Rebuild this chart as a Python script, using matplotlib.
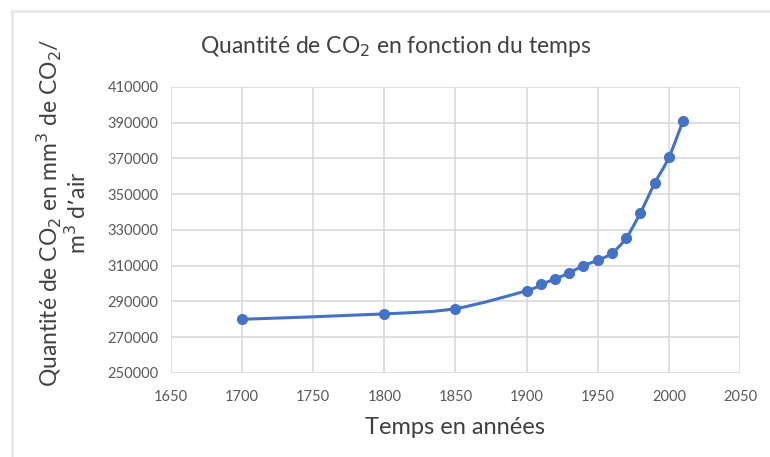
#!/usr/bin/env python3
"""CO2 quantity over time (Excel-style smoothed line chart)."""

import numpy as np
import matplotlib.pyplot as plt
from matplotlib.path import Path
from matplotlib.patches import PathPatch

years = [1700, 1800, 1850, 1900, 1910, 1920, 1930, 1940, 1950, 1960,
         1970, 1980, 1990, 2000, 2010]
co2 = [280000, 283000, 286000, 296000, 299500, 302500, 306000, 310000,
       313000, 317000, 325500, 339500, 356000, 370500, 391000]

x_ticks = list(range(1650, 2051, 50))
y_ticks = list(range(250000, 410001, 20000))

BLUE = '#4472C4'
GRID = '#d9d9d9'
TXT = '#404040'


def smooth_path(x, y):
    # Catmull-Rom style cubic Bezier through the points, like Excel's smoothed line
    p = np.column_stack([x, y]).astype(float)
    verts = [p[0]]
    codes = [Path.MOVETO]
    n = len(p)
    for i in range(n - 1):
        p0 = p[i - 1] if i > 0 else p[i]
        p3 = p[i + 2] if i + 2 < n else p[i + 1]
        c1 = p[i] + (p[i + 1] - p0) / 6
        c2 = p[i + 1] - (p3 - p[i]) / 6
        verts += [c1, c2, p[i + 1]]
        codes += [Path.CURVE4] * 3
    return Path(verts, codes)


def main():
    plt.rcParams['font.family'] = ['Lato', 'DejaVu Sans']
    fig = plt.figure(figsize=(7.7, 4.57), dpi=100)
    ax = fig.add_axes([0.222, 0.184, 0.739, 0.626])

    ax.add_patch(PathPatch(smooth_path(years, co2), facecolor='none',
                           edgecolor=BLUE, lw=2.2, zorder=3))
    ax.plot(years, co2, 'o', color=BLUE, ms=7, zorder=4)

    ax.set_xlim(1650, 2050)
    ax.set_ylim(250000, 410000)
    ax.set_xticks(x_ticks)
    ax.set_yticks(y_ticks)
    ax.grid(True, color=GRID, lw=1.2)
    ax.set_axisbelow(True)
    for s in ax.spines.values():
        s.set_visible(False)
    ax.tick_params(length=0, labelsize=10.5, labelcolor='#595959')
    ax.tick_params(axis='x', pad=12)
    ax.tick_params(axis='y', pad=9)

    ax.set_title('Quantité de CO$_2$ en fonction du temps', fontsize=16.5,
                 color=TXT, x=0.395, pad=24)
    ax.set_xlabel('Temps en années', fontsize=17, color=TXT, labelpad=10)
    ax.set_ylabel("Quantité de CO$_2$ en mm$^3$ de CO$_2$/\nm$^3$ d\u2019air",
                  fontsize=16.5, color=TXT, linespacing=1.05)
    ax.yaxis.set_label_coords(-0.143, 0.56)

    # light frame around the chart area
    fig.add_artist(plt.Line2D([0.015, 0.015], [0.0, 0.975], color='#e6e6e6',
                              lw=2, transform=fig.transFigure))
    fig.add_artist(plt.Line2D([0.015, 1.0], [0.975, 0.975], color='#e6e6e6',
                              lw=2, transform=fig.transFigure))

    fig.savefig('out.png', dpi=100, facecolor='white')


if __name__ == '__main__':
    main()
